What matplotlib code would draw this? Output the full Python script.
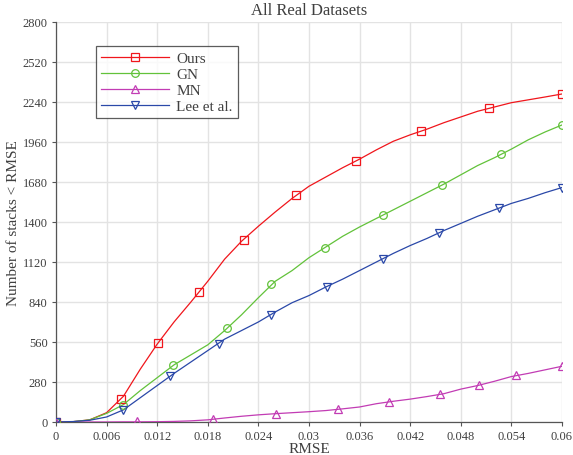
import numpy as np
import matplotlib
matplotlib.use('Agg')
import matplotlib.pyplot as plt
from matplotlib.lines import Line2D

# curve samples (RMSE step 0.002)
rmse = [0, 0.002, 0.004, 0.006, 0.008, 0.010, 0.012, 0.014, 0.016, 0.018, 0.020,
        0.022, 0.024, 0.026, 0.028, 0.030, 0.032, 0.034, 0.036, 0.038, 0.040,
        0.042, 0.044, 0.046, 0.048, 0.050, 0.052, 0.054, 0.056, 0.058, 0.060]
ours = [0, 2, 15, 65, 180, 370, 545, 700, 840, 985, 1140,
        1265, 1370, 1470, 1565, 1650, 1715, 1780, 1840, 1905, 1965,
        2010, 2050, 2095, 2135, 2175, 2205, 2235, 2255, 2275, 2296]
gn = [0, 2, 15, 60, 122, 220, 310, 400, 470, 540, 640,
      750, 870, 985, 1060, 1150, 1225, 1300, 1365, 1425, 1485,
      1545, 1605, 1665, 1730, 1795, 1850, 1910, 1975, 2030, 2079]
mn = [0, 0, 0, 0, 1, 1, 2, 4, 8, 15, 28,
      40, 50, 58, 65, 72, 80, 92, 105, 128, 145,
      160, 178, 198, 230, 255, 285, 318, 340, 365, 390]
lee = [0, 3, 12, 35, 85, 170, 255, 340, 420, 500, 580,
       640, 700, 770, 835, 885, 945, 1000, 1060, 1120, 1180,
       1235, 1285, 1340, 1390, 1440, 1485, 1530, 1565, 1605, 1641]

# marker positions
ours_mx = [0, 0.00768, 0.01208, 0.0170, 0.02228, 0.02846, 0.03562, 0.04323, 0.0513, 0.06]
ours_my = [0, 159, 551, 910, 1277, 1587, 1827, 2040, 2198, 2296]
gn_mx = [0, 0.0079, 0.01386, 0.02024, 0.02553, 0.03187, 0.03873, 0.04577, 0.05283, 0.06]
gn_my = [0, 119, 397, 656, 964, 1221, 1447, 1659, 1876, 2079]
mn_mx = [0, 0.0096, 0.01859, 0.0261, 0.0335, 0.0395, 0.04551, 0.05022, 0.05459, 0.06]
mn_my = [0, 7, 19, 59, 89, 143, 194, 257, 327, 390]
lee_mx = [0, 0.00793, 0.01356, 0.0193, 0.02553, 0.03214, 0.03873, 0.04545, 0.05249, 0.06]
lee_my = [0, 82, 320, 549, 752, 948, 1144, 1326, 1496, 1641]

xticks = [0, 0.006, 0.012, 0.018, 0.024, 0.03, 0.036, 0.042, 0.048, 0.054, 0.06]
xticklabels = ['0', '0.006', '0.012', '0.018', '0.024', '0.03', '0.036', '0.042',
               '0.048', '0.054', '0.06']
yticks = [0, 280, 560, 840, 1120, 1400, 1680, 1960, 2240, 2520, 2800]

plt.rcParams['font.family'] = ['Liberation Serif', 'DejaVu Serif']
txt = '#404040'

fig = plt.figure(figsize=(5.73, 4.56), dpi=100)
ax = fig.add_axes([0.0977, 0.0724, 0.883, 0.8772])

series = [
    ('Ours', ours, ours_mx, ours_my, '#f0161c', 's'),
    ('GN', gn, gn_mx, gn_my, '#62c23a', 'o'),
    ('MN', mn, mn_mx, mn_my, '#c23cb4', '^'),
    ('Lee et al.', lee, lee_mx, lee_my, '#2a48a8', 'v'),
]
handles = []
for name, ys, mx, my, c, m in series:
    ax.plot(rmse, ys, color=c, lw=0.9, zorder=3)
    ax.plot(mx, my, ls='none', marker=m, ms=5.5, mfc='none', mec=c, mew=0.9, zorder=4)
    handles.append(Line2D([], [], color=c, lw=0.9, marker=m, ms=5.5, mfc='none',
                          mec=c, mew=0.9, label=name))

ax.set_xlim(0, 0.06)
ax.set_ylim(0, 2800)
ax.set_xticks(xticks)
ax.set_xticklabels(xticklabels)
ax.set_yticks(yticks)
ax.grid(True, color='#e3e3e3', lw=1.0, zorder=0)
ax.set_axisbelow(True)
for s in ['top', 'right']:
    ax.spines[s].set_visible(False)
for s in ['left', 'bottom']:
    ax.spines[s].set_color('#555555')
    ax.spines[s].set_linewidth(0.9)
ax.tick_params(direction='out', length=3, width=0.8, colors='#555555',
               labelsize=9, labelcolor=txt, pad=3)

ax.set_title('All Real Datasets', fontsize=12, color=txt, pad=6)
ax.set_xlabel('RMSE', fontsize=11, color=txt, labelpad=0)
ax.set_ylabel('Number of stacks < RMSE', fontsize=11, color=txt, labelpad=2)

leg = ax.legend(handles=handles, loc='upper left', bbox_to_anchor=(0.079, 0.94),
                fontsize=11, frameon=True, fancybox=False, edgecolor='#333333',
                handlelength=4.4, borderpad=0.35, labelspacing=0.15,
                handletextpad=0.5, borderaxespad=0)
leg.get_frame().set_linewidth(0.9)
for t in leg.get_texts():
    t.set_color(txt)

fig.savefig('out.png', dpi=100, facecolor='white')
